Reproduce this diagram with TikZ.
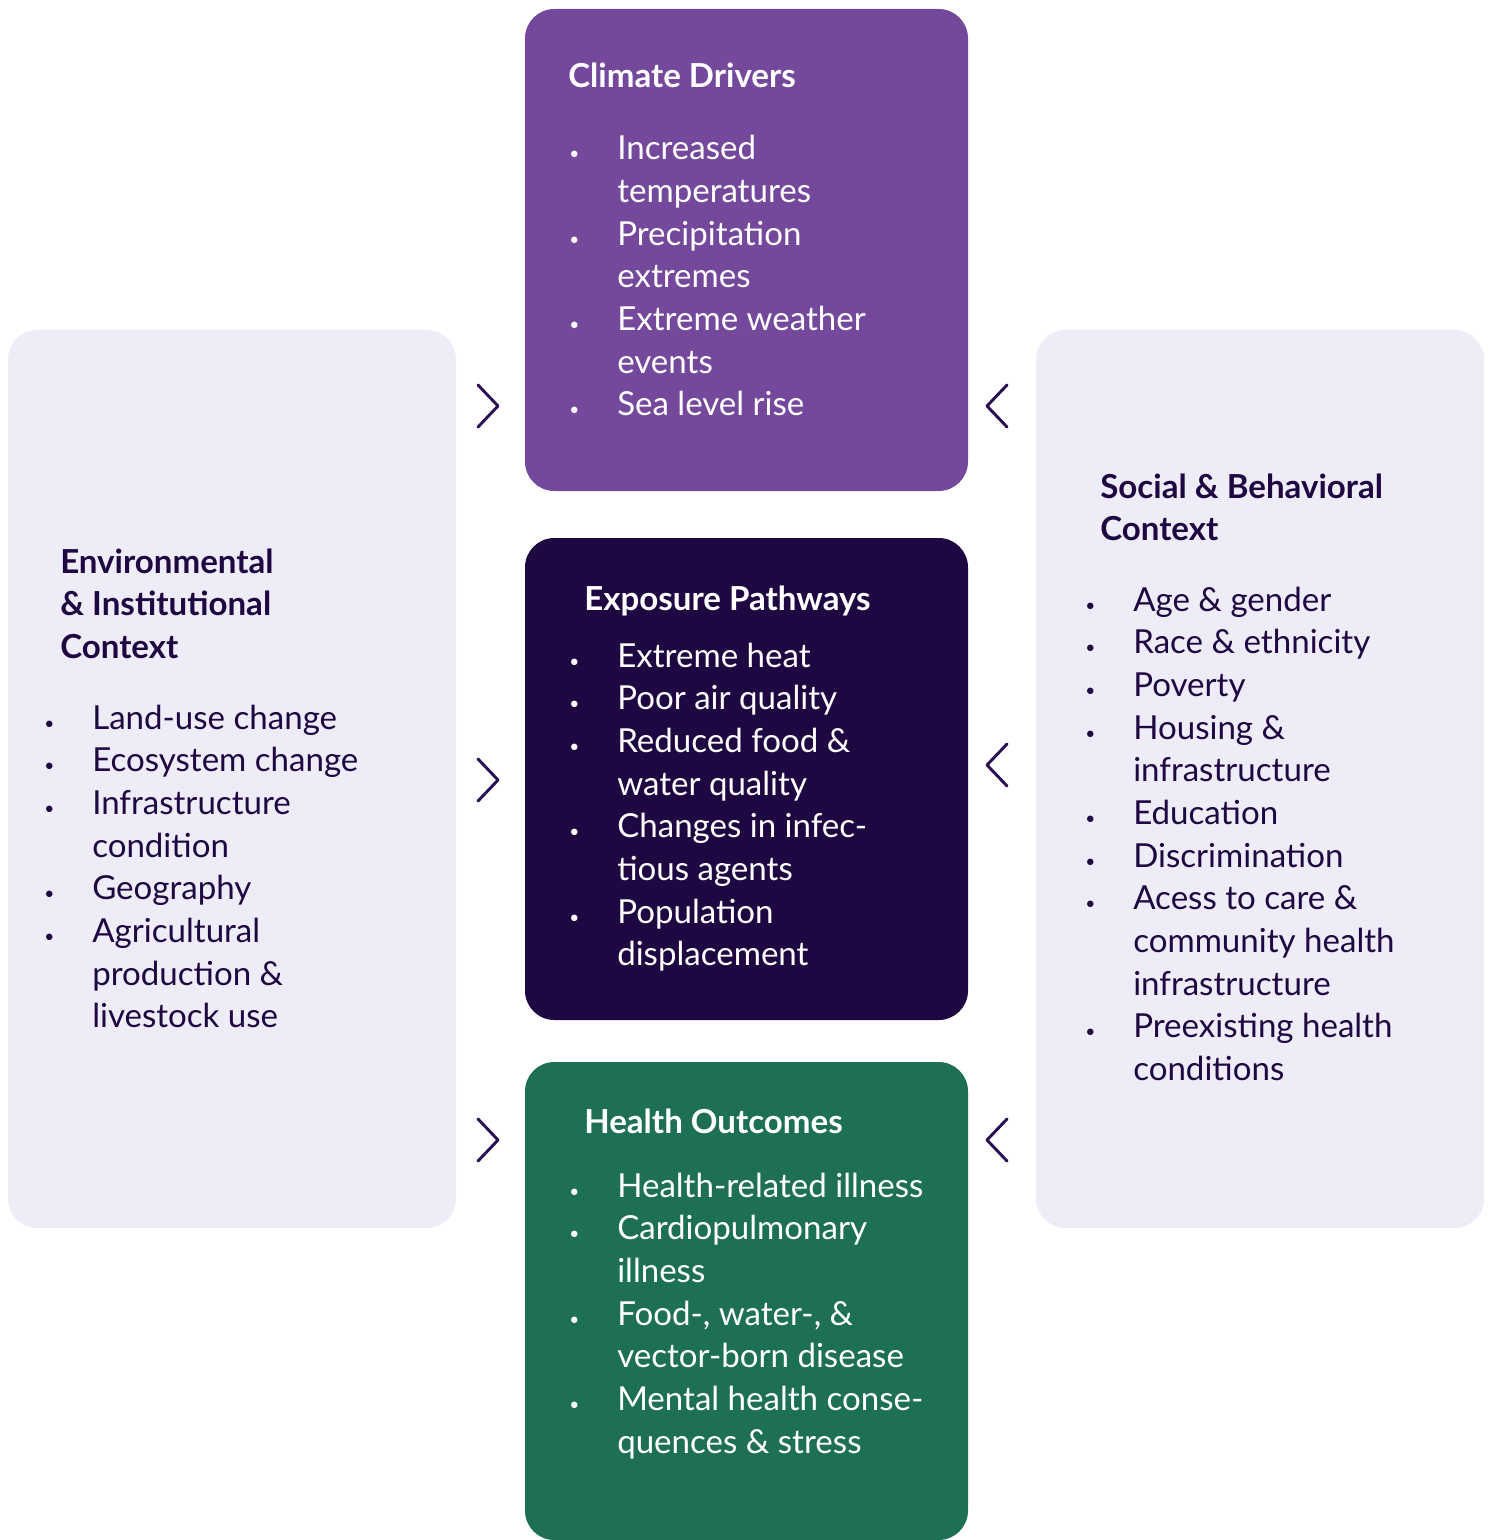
\documentclass[tikz,border=0pt]{standalone}
\usepackage{fontspec}
\setmainfont{Lato}
\usepackage{array}
\definecolor{cdpurple}{HTML}{74489A}
\definecolor{epdark}{HTML}{1F0742}
\definecolor{hogreen}{HTML}{1E7053}
\definecolor{ctxlight}{HTML}{EEECF6}
\definecolor{txtdark}{HTML}{1F0742}
\definecolor{chev}{HTML}{2A1050}
\newcommand{\bodyfont}{\fontsize{24.8}{32}\selectfont}
\newcommand{\bul}{{\fontsize{13}{13}\selectfont\textbullet}}
\newenvironment{blist}{\bodyfont\begin{tabular}[t]{@{}p{36pt}@{}l@{}}}{\end{tabular}}
\tikzset{
  panel/.style={rounded corners=22pt, draw=none},
  ttl/.style={anchor=base west, inner sep=0pt, font=\bodyfont\bfseries},
  lst/.style={anchor=base west, inner sep=0pt},
  chevron/.style={draw=chev, line width=2.2pt, line join=round, line cap=round}
}
\begin{document}
\begin{tikzpicture}[x=0.75pt,y=-0.75pt]
\useasboundingbox (0,0) rectangle (1493,1540);
% panels
\fill[panel, fill=ctxlight] (8,330) rectangle (456,1228);
\fill[panel, fill=ctxlight] (1036,330) rectangle (1484,1228);
\fill[panel, fill=cdpurple] (525,9) rectangle (968,491);
\fill[panel, fill=epdark] (525,538) rectangle (968,1020);
\fill[panel, fill=hogreen] (525,1062) rectangle (968,1540);
% Climate Drivers
\node[ttl, text=white] (cdt) at (568,88) {Climate Drivers};
\node[lst, text=white] (cdl) at (569,160) {\begin{blist}
\bul & Increased\\
 & temperatures\\
\bul & Precipitation\\
 & extremes\\
\bul & Extreme weather\\
 & events\\
\bul & Sea level rise
\end{blist}};
% Exposure Pathways
\node[ttl, text=white] (ept) at (584,610) {Exposure Pathways};
\node[lst, text=white] (epl) at (569,667) {\begin{blist}
\bul & Extreme heat\\
\bul & Poor air quality\\
\bul & Reduced food \&\\
 & water quality\\
\bul & Changes in infec-\\
 & tious agents\\
\bul & Population\\
 & displacement
\end{blist}};
% Health Outcomes
\node[ttl, text=white] (hot) at (584,1133) {Health Outcomes};
\node[lst, text=white] (hol) at (569,1197) {\begin{blist}
\bul & Health-related illness\\
\bul & Cardiopulmonary\\
 & illness\\
\bul & Food-, water-, \&\\
 & vector-born disease\\
\bul & Mental health conse-\\
 & quences \& stress
\end{blist}};
% Environmental
\node[ttl, text=txtdark] (ent) at (60,573) {\begin{tabular}[t]{@{}l@{}}Environmental\\ \& Institutional\\ Context\end{tabular}};
\node[lst, text=txtdark] (enl) at (44,729) {\begin{blist}
\bul & Land-use change\\
\bul & Ecosystem change\\
\bul & Infrastructure\\
 & condition\\
\bul & Geography\\
\bul & Agricultural\\
 & production \&\\
 & livestock use
\end{blist}};
% Social
\node[ttl, text=txtdark] (sot) at (1100,498) {\begin{tabular}[t]{@{}l@{}}Social \& Behavioral\\ Context\end{tabular}};
\node[lst, text=txtdark] (sol) at (1085,611) {\begin{blist}
\bul & Age \& gender\\
\bul & Race \& ethnicity\\
\bul & Poverty\\
\bul & Housing \&\\
 & infrastructure\\
\bul & Education\\
\bul & Discrimination\\
\bul & Acess to care \&\\
 & community health\\
 & infrastructure\\
\bul & Preexisting health\\
 & conditions
\end{blist}};
% chevrons
\foreach \yy in {406,780,1140}{
  \draw[chevron] (478,\yy-21) -- (498,\yy) -- (478,\yy+21);
}
\foreach \yy in {406,765,1140}{
  \draw[chevron] (1007,\yy-21) -- (987,\yy) -- (1007,\yy+21);
}
\end{tikzpicture}
\end{document}
